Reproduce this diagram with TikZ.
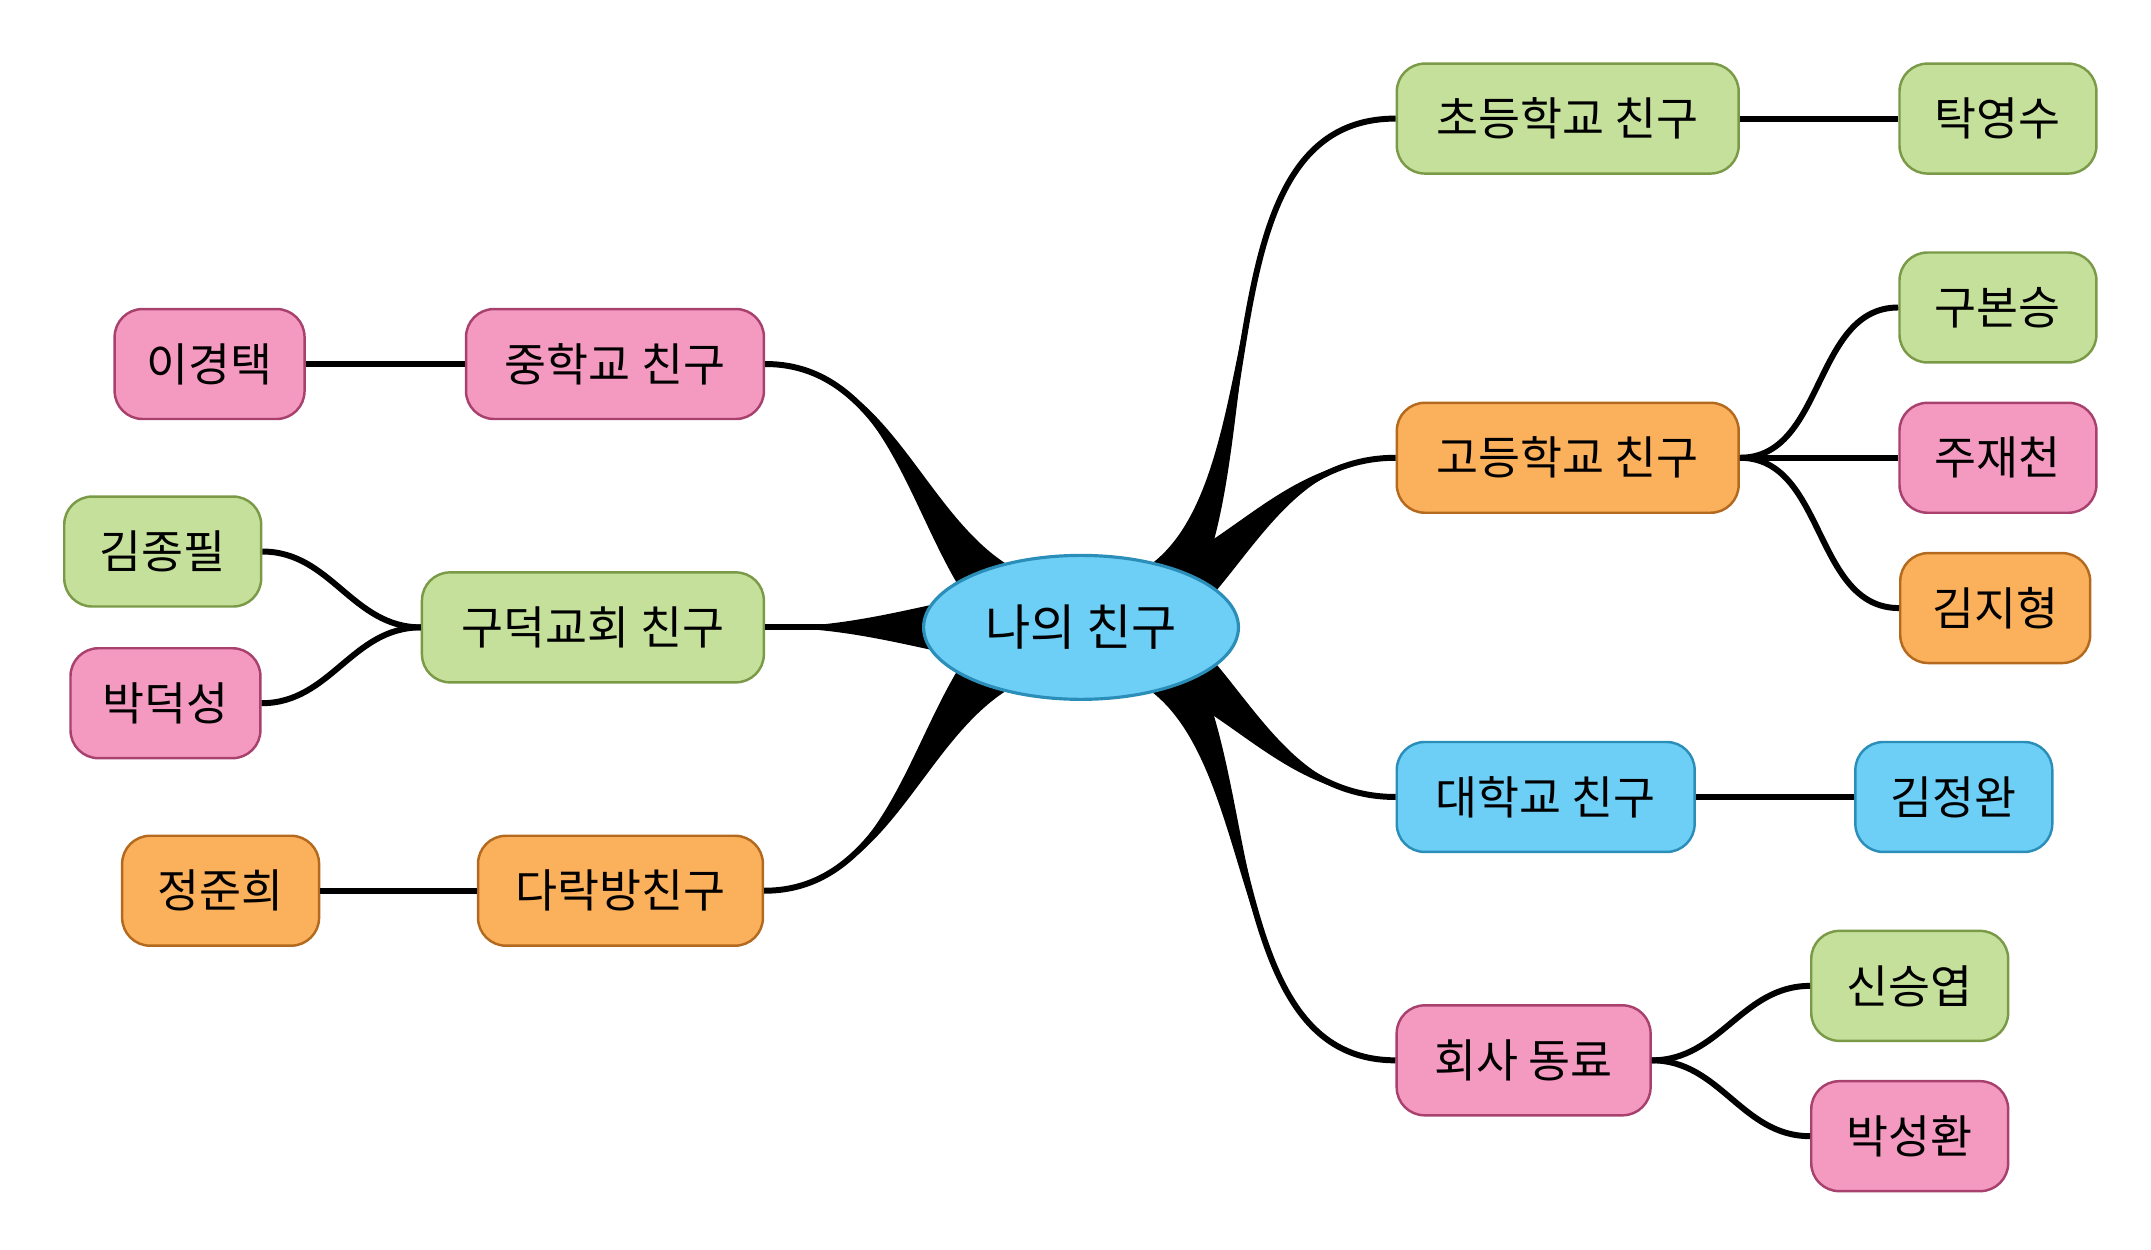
\documentclass[tikz,border=0pt]{standalone}
\usepackage{fontspec}
\setmainfont{Noto Sans CJK KR}
\usetikzlibrary{calc,shapes.geometric}
\definecolor{grn}{HTML}{C5E09B}\definecolor{grnd}{HTML}{7B9A48}
\definecolor{pnk}{HTML}{F49AC1}\definecolor{pnkd}{HTML}{A8416E}
\definecolor{org}{HTML}{FBB05C}\definecolor{orgd}{HTML}{B46A1E}
\definecolor{blu}{HTML}{6DCFF6}\definecolor{blud}{HTML}{2A8EB8}
\tikzset{
  box/.style={rounded corners=0.28cm, minimum height=1.1cm, line width=0.7pt, font=\fontsize{13}{15}\selectfont},
  gbox/.style={box, fill=grn, draw=grnd},
  pbox/.style={box, fill=pnk, draw=pnkd},
  obox/.style={box, fill=org, draw=orgd},
  bbox/.style={box, fill=blu, draw=blud},
  link/.style={line width=1.7pt},
}
% tapered main branch: root, node anchor, out, in
\newcommand{\branch}[4]{%
  \fill ($(#1)+(0,30)$) to[out=#3,in=#4] (#2) to[out=#4,in=#3] ($(#1)+(0,-30)$) -- cycle;
  \draw[link] (#1) to[out=#3,in=#4] (#2);}
\begin{document}
\begin{tikzpicture}[x=0.01379cm,y=-0.01379cm]
\useasboundingbox (0,0) rectangle (1560,906);
% nodes
\node[gbox, minimum width=3.42cm] (cho) at (1137,86) {초등학교 친구};
\node[gbox, minimum width=1.97cm] (tak) at (1449,86) {탁영수};
\node[obox, minimum width=3.42cm] (go) at (1137,332) {고등학교 친구};
\node[gbox, minimum width=1.97cm] (gu) at (1449,223) {구본승};
\node[pbox, minimum width=1.97cm] (ju) at (1449,332) {주재천};
\node[obox, minimum width=1.9cm] (kjh) at (1447,441) {김지형};
\node[bbox, minimum width=2.98cm] (dae) at (1121,578) {대학교 친구};
\node[bbox, minimum width=1.97cm] (kjw) at (1417,578) {김정완};
\node[pbox, minimum width=2.54cm] (hoe) at (1105,769) {회사 동료};
\node[gbox, minimum width=1.97cm] (shin) at (1385,715) {신승엽};
\node[pbox, minimum width=1.97cm] (psh) at (1385,824) {박성환};
\node[pbox, minimum width=2.98cm] (jung) at (446,264) {중학교 친구};
\node[pbox, minimum width=1.9cm] (lee) at (152,264) {이경택};
\node[gbox, minimum width=3.42cm] (gdk) at (430,455) {구덕교회 친구};
\node[gbox, minimum width=1.97cm] (kjp) at (118,400) {김종필};
\node[pbox, minimum width=1.9cm] (pds) at (120,510) {박덕성};
\node[obox, minimum width=2.85cm] (drb) at (450,646) {다락방친구};
\node[obox, minimum width=1.97cm] (jjh) at (160,646) {정준희};
% main branches
\coordinate (c) at (784,455);
\branch{c}{cho.west}{0}{180}
\branch{c}{go.west}{0}{180}
\branch{c}{dae.west}{0}{180}
\branch{c}{hoe.west}{0}{180}
\branch{c}{jung.east}{180}{0}
\branch{c}{gdk.east}{180}{0}
\branch{c}{drb.east}{180}{0}
\node[ellipse, fill=blu, draw=blud, line width=0.9pt, minimum width=3.15cm, minimum height=1.44cm, font=\fontsize{14}{16}\selectfont] (root) at (c) {나의 친구};
% child links
\foreach \a/\b in {cho/tak,go/gu,go/ju,go/kjh,dae/kjw,hoe/shin,hoe/psh}
  \draw[link] (\a.east) to[out=0,in=180] (\b.west);
\foreach \a/\b in {jung/lee,gdk/kjp,gdk/pds,drb/jjh}
  \draw[link] (\a.west) to[out=180,in=0] (\b.east);
\end{tikzpicture}
\end{document}
